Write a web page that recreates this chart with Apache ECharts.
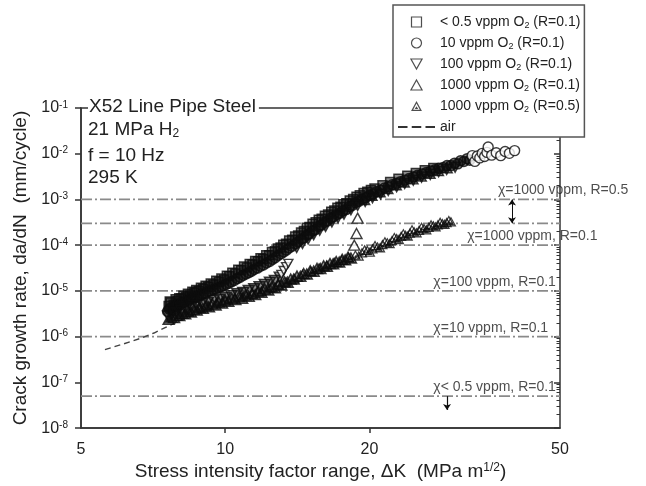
<!DOCTYPE html>
<html>
<head>
<meta charset="utf-8">
<title>X52 fatigue crack growth in H2 with O2 additions</title>
<script src="https://cdn.jsdelivr.net/npm/echarts@6/dist/echarts.min.js"></script>
<style>
  html, body { margin: 0; padding: 0; background: #fff; }
  #chart { width: 646px; height: 486px; }
</style>
</head>
<body>
<div id="chart"></div>
<script>
// Fatigue crack growth of X52 line pipe steel in 21 MPa H2 with oxygen additions.
// Each point: [ΔK (MPa m^1/2), da/dN (mm/cycle)]

const seriesNames = [
  '< 0.5 vppm O2 (R=0.1)',
  '10 vppm O2 (R=0.1)',
  '100 vppm O2 (R=0.1)',
  '1000 vppm O2 (R=0.1)',
  '1000 vppm O2 (R=0.5)',
  'air'
];

const o2Below05 = [
  [7.62,4.7e-6],[7.70,5.6e-6],[7.80,5.0e-6],[7.95,6.0e-6],[8.10,6.8e-6],[8.28,7.4e-6],
  [8.45,7.9e-6],[8.62,9.1e-6],[8.80,1.0e-5],[9.00,1.12e-5],[9.22,1.23e-5],[9.45,1.38e-5],
  [9.70,1.58e-5],[9.95,1.78e-5],[10.2,2.09e-5],[10.5,2.4e-5],[10.8,2.82e-5],[11.1,3.24e-5],
  [11.4,3.8e-5],[11.7,4.47e-5],[12.0,5.0e-5],[12.35,6.0e-5],[12.7,7.4e-5],[13.05,8.9e-5],
  [13.4,1.07e-4],[13.8,1.32e-4],[14.2,1.62e-4],[14.6,2.04e-4],[15.0,2.5e-4],[15.45,3.16e-4],
  [15.9,3.8e-4],[16.4,4.68e-4],[16.9,5.75e-4],[17.4,6.9e-4],[17.9,8.3e-4],[18.5,1.02e-3],
  [19.1,1.23e-3],[19.8,1.48e-3],[20.5,1.74e-3],[21.3,2.04e-3],[22.1,2.4e-3],[23.0,2.82e-3],
  [24.0,3.3e-3],[25.0,3.8e-3],[26.1,4.37e-3],[27.2,4.9e-3],
  [7.66,5.9e-6],[7.88,6.6e-6],[8.02,6.9e-6],[8.18,7.8e-6],[8.36,8.7e-6],[8.54,9.6e-6],
  [8.70,1.05e-5],[8.90,1.17e-5],[9.10,1.3e-5],[9.33,1.45e-5],[9.58,1.66e-5],[9.82,1.86e-5],
  [10.08,2.14e-5],[10.35,2.5e-5],[10.65,2.9e-5],[10.95,3.4e-5],[11.25,3.9e-5],[11.55,4.5e-5],
  [11.85,5.2e-5],[12.18,6.0e-5],[12.52,7.1e-5],[12.88,8.5e-5],[13.22,1.02e-4],[13.6,1.26e-4],
  [14.0,1.55e-4],[14.4,1.9e-4],[14.8,2.4e-4],[15.22,2.95e-4],[15.68,3.6e-4],[16.15,4.4e-4],
  [16.65,5.4e-4],[17.15,6.6e-4],[17.65,7.9e-4],[18.2,9.5e-4],[18.8,1.15e-3],[19.45,1.38e-3],
  [20.15,1.62e-3]
];

const o2Ppm10 = [
  [7.58,3.55e-6],[7.68,4.17e-6],[7.78,3.8e-6],[7.90,4.57e-6],[8.05,5.0e-6],[8.20,5.6e-6],
  [8.38,6.0e-6],[8.55,6.8e-6],[8.72,7.2e-6],[8.90,8.1e-6],[9.10,8.9e-6],[9.32,1.0e-5],
  [9.55,1.1e-5],[9.80,1.23e-5],[10.05,1.38e-5],[10.3,1.58e-5],[10.6,1.86e-5],[10.9,2.19e-5],
  [11.2,2.5e-5],[11.5,2.95e-5],[11.85,3.47e-5],[12.2,4.07e-5],[12.55,4.9e-5],[12.9,6.0e-5],
  [13.25,7.1e-5],[13.6,8.7e-5],[14.0,1.07e-4],[14.4,1.35e-4],[14.8,1.66e-4],[15.2,2.04e-4],
  [15.65,2.57e-4],[16.1,3.16e-4],[16.6,3.9e-4],[17.1,4.68e-4],[17.6,5.6e-4],[18.15,6.9e-4],
  [18.7,8.5e-4],[19.3,1.02e-3],[20.0,1.23e-3],[20.7,1.48e-3],[21.5,1.78e-3],[22.3,2.09e-3],
  [23.2,2.45e-3],[24.2,2.88e-3],[25.2,3.39e-3],[26.3,3.9e-3],[27.4,4.47e-3],[28.5,5.0e-3],
  [29.6,5.5e-3],[30.6,6.0e-3],[31.5,6.8e-3],[32.4,7.2e-3],
  [7.64,4.0e-6],[7.84,4.7e-6],[7.98,5.2e-6],[8.12,5.5e-6],[8.30,6.1e-6],[8.46,6.7e-6],
  [8.64,7.3e-6],[8.82,7.9e-6],[9.0,8.8e-6],[9.22,9.7e-6],[9.44,1.07e-5],[9.68,1.18e-5],
  [9.92,1.32e-5],[10.18,1.48e-5],[10.45,1.69e-5],[10.75,2.0e-5],[11.05,2.34e-5],[11.35,2.7e-5],
  [11.68,3.16e-5],[12.02,3.7e-5],[12.38,4.4e-5],[12.72,5.3e-5],[13.08,6.5e-5],[13.42,7.8e-5],
  [13.8,9.5e-5],[14.2,1.18e-4],[14.6,1.44e-4],[15.0,1.78e-4],[15.42,2.18e-4],[15.88,2.75e-4],
  [16.35,3.4e-4],[16.85,4.2e-4],[17.35,5.0e-4],[17.88,6.0e-4],[18.42,7.4e-4],[19.0,9.1e-4],
  [19.65,1.09e-3],[20.35,1.32e-3],[21.1,1.58e-3],[21.9,1.9e-3],[22.75,2.23e-3],[23.7,2.64e-3],
  [24.7,3.1e-3],[25.75,3.6e-3],[26.85,4.2e-3],[27.95,4.8e-3],[29.05,5.5e-3],[30.1,6.2e-3],
  [31.0,7.0e-3],[32.0,7.8e-3]
];
// sparse end of the 10 vppm record
const o2Ppm10Tail = [
  [32.8,9.1e-3],[33.2,6.8e-3],[33.6,8.9e-3],[34.0,8.1e-3],[34.4,1.02e-2],[34.8,8.7e-3],
  [35.2,1.07e-2],[35.4,1.4e-2],[36.0,9.3e-3],[36.8,1.05e-2],[37.6,9.1e-3],[38.4,1.12e-2],
  [39.2,1.02e-2],[40.2,1.17e-2]
];

const o2Ppm100 = [
  [7.60,2.82e-6],[7.75,3.16e-6],[7.92,3.39e-6],[8.10,3.72e-6],[8.30,4.07e-6],[8.50,4.47e-6],
  [8.72,4.79e-6],[8.95,5.25e-6],[9.20,5.6e-6],[9.45,6.2e-6],[9.72,6.6e-6],[10.0,7.2e-6],
  [10.3,7.9e-6],[10.6,8.7e-6],[10.9,9.3e-6],[11.2,1.02e-5],[11.5,1.12e-5],[11.8,1.23e-5],
  [12.1,1.38e-5],[12.4,1.55e-5],[12.7,1.7e-5],[13.0,2.0e-5],
  [14.1,8.9e-5],[14.5,1.1e-4],[14.9,1.38e-4],[15.3,1.7e-4],[15.75,2.14e-4],[16.2,2.57e-4],
  [16.7,3.24e-4],[17.2,3.98e-4],[17.7,4.79e-4],[18.3,6.0e-4],[18.9,7.4e-4],[19.6,9.1e-4],
  [20.3,1.1e-3],[21.1,1.32e-3],[21.9,1.58e-3],[22.8,1.9e-3],[23.7,2.24e-3],[24.7,2.63e-3],
  [25.7,3.09e-3],[26.8,3.55e-3],[27.9,4.07e-3],[29.0,4.57e-3],[30.2,5.1e-3]
];
// 100 vppm points crossing from the lower to the upper curve
const o2Ppm100Step = [[13.1,2.3e-5],[13.25,2.8e-5],[13.4,3.4e-5],[13.55,4.0e-5]];

const o2Ppm1000R01 = [
  [7.62,2.4e-6],[7.82,2.63e-6],[8.02,2.88e-6],[8.25,3.16e-6],[8.48,3.47e-6],[8.72,3.8e-6],
  [8.98,4.17e-6],[9.25,4.47e-6],[9.55,4.9e-6],[9.85,5.4e-6],[10.15,5.9e-6],[10.5,6.5e-6],
  [10.85,6.9e-6],[11.2,7.6e-6],[11.55,8.3e-6],[11.9,9.3e-6],[12.3,1.05e-5],[12.7,1.17e-5],
  [13.1,1.35e-5],[13.5,1.55e-5],[13.9,1.82e-5],[14.35,2.09e-5],[14.8,2.34e-5],[15.3,2.7e-5],
  [15.8,3.09e-5],[16.3,3.47e-5],[16.8,3.9e-5],[17.3,4.27e-5],[17.8,4.79e-5],[18.3,5.25e-5],
  [7.72,2.7e-6],[7.92,2.95e-6],[8.14,3.25e-6],[8.36,3.6e-6],[8.60,3.95e-6],[8.85,4.35e-6],
  [9.12,4.75e-6],[9.4,5.2e-6],[9.7,5.7e-6],[10.0,6.3e-6],[10.32,6.9e-6],[10.68,7.5e-6],
  [11.02,8.1e-6],[11.38,8.9e-6],[11.72,9.8e-6],[12.1,1.1e-5],[12.5,1.23e-5],[12.9,1.38e-5],
  [13.3,1.58e-5],[13.7,1.82e-5],[14.12,2.1e-5],[14.58,2.4e-5],[15.05,2.75e-5],[15.55,3.1e-5],
  [16.05,3.55e-5],[16.55,3.98e-5],[17.05,4.4e-5],[17.55,4.9e-5],[18.05,5.5e-5],
  [19.5,1.0e-3],[20.2,1.23e-3],[21.0,1.48e-3],[21.8,1.74e-3],[22.7,2.09e-3],[23.6,2.4e-3],
  [24.6,2.82e-3],[25.6,3.24e-3],[26.7,3.72e-3],[27.8,4.27e-3],[29.0,4.9e-3]
];
// 1000 vppm (R=0.1) points crossing from the lower to the upper curve
const o2Ppm1000R01Step = [[18.6,1.0e-4],[18.8,1.8e-4],[18.9,3.9e-4]];

const o2Ppm1000R05 = [
  [8.05,3.16e-6],[8.4,3.72e-6],[8.8,4.37e-6],[9.2,4.9e-6],[9.6,5.5e-6],[10.0,6.2e-6],
  [10.45,7.1e-6],[10.9,7.8e-6],[11.4,8.7e-6],[11.9,1.0e-5],[12.4,1.17e-5],[12.9,1.38e-5],
  [13.4,1.62e-5],[13.95,1.9e-5],[14.5,2.34e-5],[15.1,2.75e-5],[15.7,3.24e-5],[16.3,3.72e-5],
  [16.9,4.27e-5],[17.5,4.79e-5],[18.1,5.5e-5],[18.7,6.2e-5],[19.0,5.9e-5],[19.3,6.9e-5],
  [19.55,8.0e-5],[19.8,7.8e-5],[20.05,7.2e-5],[20.3,8.5e-5],[20.55,1.0e-4],[20.8,9.3e-5],
  [21.05,8.9e-5],[21.3,1.05e-4],[21.55,1.2e-4],[21.8,1.15e-4],[22.05,1.1e-4],[22.3,1.29e-4],
  [22.55,1.5e-4],[22.8,1.41e-4],[23.05,1.35e-4],[23.3,1.58e-4],[23.55,1.8e-4],[23.8,1.66e-4],
  [24.05,1.6e-4],[24.3,1.86e-4],[24.55,2.2e-4],[24.8,2.0e-4],[25.1,1.9e-4],[25.4,2.14e-4],
  [25.7,2.5e-4],[26.0,2.34e-4],[26.3,2.2e-4],[26.6,2.5e-4],[26.9,2.85e-4],[27.2,2.7e-4],
  [27.5,2.55e-4],[27.8,2.82e-4],[28.1,3.2e-4],[28.4,3.0e-4],[28.7,2.9e-4],[29.0,3.16e-4],
  [29.3,3.5e-4],[29.6,3.3e-4]
];

const airCurve = [
  [5.61,5.2e-7],[6.1,6.8e-7],[6.64,9.1e-7],[7.1,1.2e-6],[7.56,1.65e-6],[8.5,2.9e-6],
  [10,5.2e-6],[12,9.6e-6],[14,1.8e-5],[16,3.1e-5],[18,4.7e-5],[20,7.3e-5],
  [22,1.07e-4],[24,1.6e-4],[26,2.2e-4],[28,2.8e-4]
];

// oxygen-threshold growth rates (dash-dot reference lines) and their captions
const thresholdRates = [1e-3, 3e-4, 1e-4, 1e-5, 1e-6, 5e-8];
const thresholdCaptions = [
  { text: 'χ=1000 vppm, R=0.5', rate: 1e-3 },
  { text: 'χ=1000 vppm, R=0.1', rate: 1e-4 },
  { text: 'χ=100 vppm, R=0.1', rate: 1e-5 },
  { text: 'χ=10 vppm, R=0.1', rate: 1e-6 },
  { text: 'χ< 0.5 vppm, R=0.1', rate: 5e-8 }
];

const kTickLabels = [5, 10, 20, 50];
const rateExponents = [-8, -7, -6, -5, -4, -3, -2, -1];

// ---- layout ----
const FONT = '"Liberation Sans", Arial, Helvetica, sans-serif';
const INK = '#0d0d0d';
const K_MIN = 5, K_MAX = 50;
const captionAnchorK = [37.1, 32.0, 27.2, 27.2, 27.2];
const rangeArrowK = 39.7;      // double arrow between the R=0.5 limits
const downArrow = { k: 29.05, from: 5e-8, to: 2.5e-8 };

const UP_TRI = 'path://M5,0L10,9L0,9Z';
const DOWN_TRI = 'path://M0,0L10,0L5,9Z';
const DOT_TRI = 'path://M5,0.3L9.9,9.3L0.1,9.3Z M5,2.6L2.0,8.2L8.0,8.2Z M5,5.0L6.6,7.6L3.4,7.6Z';
const SQUARE = 'path://M0,0h10v10h-10z';
const DASHES = 'path://M0,0h9v2h-9z M13,0h9v2h-9z M26,0h9v2h-9z';

// dense runs: open markers with a dark body so overlapping points build up into solid bands
const bandStyle = { color: 'rgba(12,12,12,0.6)', borderColor: INK, borderWidth: 1.5 };
// isolated points: plain open markers
const openStyle = { color: '#fff', borderColor: INK, borderWidth: 1.4 };
const legendOpen = { color: 'rgba(0,0,0,0)', borderColor: '#222', borderWidth: 1.2 };

const majorTicks = rateExponents.map(e => Math.pow(10, e));
const minorTicks = [];
rateExponents.slice(0, -1).forEach(e => {
  for (let m = 2; m <= 9; m++) minorTicks.push(m * Math.pow(10, e));
});

const chart = echarts.init(document.getElementById('chart'), null, { renderer: 'canvas' });

const baseY = { type: 'log', logBase: 10, min: 1e-8, max: 1e-1, splitLine: { show: false }, minorTick: { show: false } };
const solidInk = w => ({ color: INK, width: w, type: 'solid' });

function markers(name, data, symbol, size, style, z) {
  return { name, type: 'scatter', z, data, symbol, symbolSize: size, itemStyle: style };
}

// dash-dot reference lines, drawn under the data
const thresholdSeries = thresholdRates.map(v => ({
  name: 'threshold ' + v, type: 'line', z: 1, silent: true, showSymbol: false,
  data: [[K_MIN, v], [K_MAX, v]],
  lineStyle: { color: '#8a8a8a', width: 1.8, type: [11, 3, 2, 3] }
}));

const option = {
  animation: false,
  backgroundColor: '#fff',
  grid: { left: 81, right: 86, top: 108, bottom: 56, show: true, borderColor: '#333', borderWidth: 1.5, backgroundColor: 'rgba(0,0,0,0)' },
  xAxis: {
    type: 'log', logBase: 10, min: K_MIN, max: K_MAX,
    axisLine: { show: true, lineStyle: { color: '#333', width: 1.5 } },
    axisTick: { show: true, customValues: [10, 20], length: 5, inside: false, lineStyle: { color: '#333', width: 1.5 } },
    axisLabel: { customValues: kTickLabels, margin: 13, fontSize: 16, color: '#222', fontFamily: FONT },
    splitLine: { show: false }, minorTick: { show: false },
    name: 'Stress intensity factor range, ΔK  (MPa m{sup|1/2})',
    nameLocation: 'middle', nameGap: 33,
    nameTextStyle: { fontSize: 19, color: '#222', fontFamily: FONT,
      rich: { sup: { fontSize: 12, color: '#222', fontFamily: FONT, verticalAlign: 'top' } } }
  },
  yAxis: [
    Object.assign({}, baseY, {
      axisLine: { show: true, lineStyle: { color: '#333', width: 1.5 } },
      axisTick: { show: true, customValues: majorTicks, length: 6, inside: false, lineStyle: { color: '#333', width: 1.5 } },
      axisLabel: {
        customValues: majorTicks, margin: 13, color: '#222', fontFamily: FONT,
        formatter: v => '{b|10}{s|' + Math.round(Math.log10(v)) + '}',
        rich: {
          b: { fontSize: 16, color: '#222', fontFamily: FONT },
          s: { fontSize: 10, color: '#222', fontFamily: FONT, verticalAlign: 'top' }
        }
      },
      name: 'Crack growth rate, da/dN  (mm/cycle)',
      nameLocation: 'middle', nameGap: 50,
      nameTextStyle: { fontSize: 19, color: '#222', fontFamily: FONT }
    }),
    Object.assign({}, baseY, {
      axisLine: { show: false },
      axisTick: { show: true, customValues: majorTicks, length: 6, inside: true, lineStyle: { color: '#333', width: 1.5 } },
      axisLabel: { show: false }
    }),
    Object.assign({}, baseY, {
      axisLine: { show: false },
      axisTick: { show: true, customValues: minorTicks, length: 3.5, inside: true, lineStyle: { color: '#333', width: 1 } },
      axisLabel: { show: false }
    })
  ],
  legend: {
    orient: 'vertical', left: 393, top: 5,
    padding: [9, 4, 2, 5],
    itemWidth: 37, itemHeight: 10, itemGap: 5,
    backgroundColor: '#fff', borderColor: '#555', borderWidth: 1.5,
    selectedMode: false,
    formatter: name => name.replace('O2', 'O{sub|2}'),
    textStyle: {
      fontSize: 14, lineHeight: 16, color: '#222', fontFamily: FONT,
      rich: { sub: { fontSize: 9, color: '#222', fontFamily: FONT, verticalAlign: 'bottom' } }
    },
    data: [
      { name: seriesNames[0], icon: SQUARE, itemStyle: legendOpen },
      { name: seriesNames[1], icon: 'circle', itemStyle: legendOpen },
      { name: seriesNames[2], icon: DOWN_TRI, itemStyle: legendOpen },
      { name: seriesNames[3], icon: UP_TRI, itemStyle: legendOpen },
      { name: seriesNames[4], icon: DOT_TRI, itemStyle: { color: '#222', borderWidth: 0 } },
      { name: seriesNames[5], icon: DASHES, itemStyle: { color: '#333', borderWidth: 0 } }
    ]
  },
  graphic: [
    { type: 'text', x: 88, y: 107, z: 100,
      style: { text: 'X52 Line Pipe Steel', fontSize: 19, fontFamily: FONT, fill: '#222',
        verticalAlign: 'middle', backgroundColor: '#fff', padding: [1, 3, 1, 1] } },
    { type: 'text', x: 88, y: 130, z: 100,
      style: { text: '21 MPa H{sub|2}', fontSize: 19, fontFamily: FONT, fill: '#222', verticalAlign: 'middle',
        rich: { sub: { fontSize: 12, fontFamily: FONT, fill: '#222', verticalAlign: 'bottom' } } } },
    { type: 'text', x: 88, y: 156, z: 100,
      style: { text: 'f = 10 Hz', fontSize: 19, fontFamily: FONT, fill: '#222', verticalAlign: 'middle' } },
    { type: 'text', x: 88, y: 178, z: 100,
      style: { text: '295 K', fontSize: 19, fontFamily: FONT, fill: '#222', verticalAlign: 'middle' } }
  ],
  series: thresholdSeries.concat([
    {
      name: 'captions', type: 'scatter', z: 1, silent: true,
      symbolSize: 0,
      data: thresholdCaptions.map((c, i) => ({ value: [captionAnchorK[i], c.rate], name: c.text })),
      label: {
        show: true, position: 'right', distance: 0, offset: [0, -9],
        formatter: p => p.name, fontSize: 14, color: '#222', fontFamily: FONT
      },
      markLine: {
        silent: true, animation: false,
        label: { show: false },
        data: [
          [
            { coord: [rangeArrowK, thresholdRates[0]], symbol: 'arrow', symbolSize: 6, lineStyle: solidInk(1) },
            { coord: [rangeArrowK, thresholdRates[1]], symbol: 'arrow', symbolSize: 6, lineStyle: solidInk(1) }
          ],
          [
            { coord: [downArrow.k, downArrow.from], symbol: 'none', lineStyle: solidInk(1.2) },
            { coord: [downArrow.k, downArrow.to], symbol: 'arrow', symbolSize: 6, lineStyle: solidInk(1.2) }
          ]
        ]
      }
    },
    {
      name: seriesNames[5], type: 'line', z: 2, data: airCurve, showSymbol: false, smooth: false,
      lineStyle: { color: '#444', width: 1.4, type: [6, 4] }, itemStyle: { color: '#333' }
    },
    markers(seriesNames[0], o2Below05, SQUARE, 9, bandStyle, 3),
    markers(seriesNames[1], o2Ppm10, 'circle', 10, bandStyle, 3),
    markers(seriesNames[1], o2Ppm10Tail, 'circle', 10, openStyle, 4),
    markers(seriesNames[2], o2Ppm100, DOWN_TRI, [11, 10], bandStyle, 3),
    markers(seriesNames[2], o2Ppm100Step, DOWN_TRI, [9, 8], openStyle, 4),
    markers(seriesNames[3], o2Ppm1000R01, UP_TRI, [11, 10], bandStyle, 3),
    markers(seriesNames[3], o2Ppm1000R01Step, UP_TRI, [11, 10], openStyle, 4),
    markers(seriesNames[4], o2Ppm1000R05, DOT_TRI, [11, 10], { color: INK, borderWidth: 0 }, 3)
  ])
};

chart.setOption(option);
</script>
</body>
</html>
